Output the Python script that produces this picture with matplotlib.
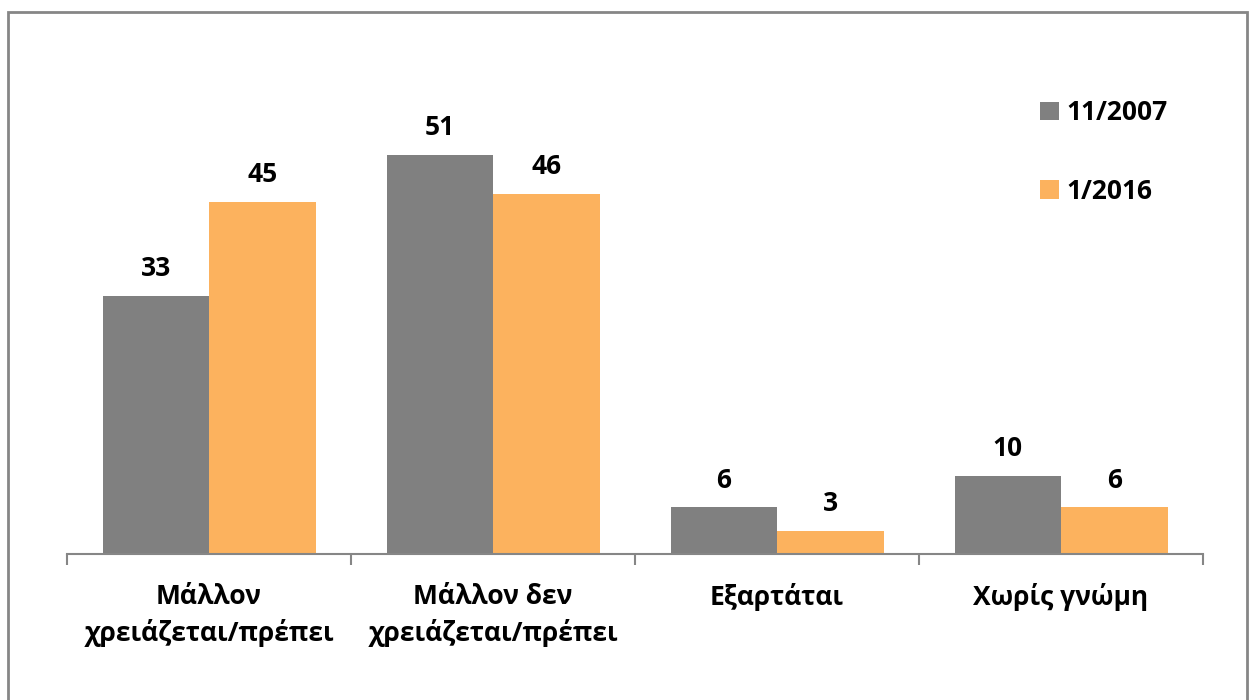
import numpy as np
import matplotlib.pyplot as plt
from matplotlib.patches import Rectangle

categories = ["Μάλλον\nχρειάζεται/πρέπει", "Μάλλον δεν\nχρειάζεται/πρέπει", "Εξαρτάται", "Χωρίς γνώμη"]
series_names = ["11/2007", "1/2016"]
values_2007 = [33, 51, 6, 10]
values_2016 = [45, 46, 3, 6]
colors = ["#808080", "#FCB25E"]

plt.rcParams['font.family'] = ['Open Sans', 'DejaVu Sans']

W, H = 1253, 700
fig = plt.figure(figsize=(W / 100, H / 100), dpi=100)

# axes placed in pixel terms of the reference
left, right, base, top = 67, 1203, 554, 84
ax = fig.add_axes([left / W, 1 - base / H, (right - left) / W, (base - top) / H])

x = np.arange(len(categories))
width = 0.375
b1 = ax.bar(x - width / 2, values_2007, width, color=colors[0], label=series_names[0])
b2 = ax.bar(x + width / 2, values_2016, width, color=colors[1], label=series_names[1])

for bars in (b1, b2):
    for rect in bars:
        ax.annotate(str(int(rect.get_height())),
                    (rect.get_x() + rect.get_width() / 2, rect.get_height()),
                    xytext=(0, 14), textcoords='offset points',
                    ha='center', va='baseline', fontsize=19, fontweight='bold')

ax.set_xlim(-0.5, len(categories) - 0.5)
ax.set_ylim(0, 60)
ax.set_yticks([])
for s in ['top', 'right', 'left']:
    ax.spines[s].set_visible(False)
ax.spines['bottom'].set_color('#868686')
ax.spines['bottom'].set_linewidth(1.5)

# category boundary ticks
ax.set_xticks(np.arange(len(categories) + 1) - 0.5, minor=False)
ax.set_xticklabels([])
ax.tick_params(axis='x', which='major', length=8, width=1.5, color='#868686')
ax.set_xticks(x, minor=True)
ax.set_xticklabels(categories, minor=True, fontsize=19, fontweight='bold', linespacing=1.4)
ax.tick_params(axis='x', which='minor', length=0, pad=21)

leg = fig.legend(handles=[b1, b2], loc='upper left', bbox_to_anchor=(1027 / W, 1 - 86 / H),
                 frameon=False, prop={'weight': 'bold', 'size': 19}, borderpad=0,
                 handlelength=0.7, handleheight=0.7, handletextpad=0.3, labelspacing=1.95)

# outer border
fig.patches.append(Rectangle((7.5 / W, -0.01), (1247 - 7.5) / W, 1.01 - 11.5 / H,
                             transform=fig.transFigure, fill=False,
                             edgecolor='#868686', linewidth=2))

fig.savefig("out.png", dpi=100)
